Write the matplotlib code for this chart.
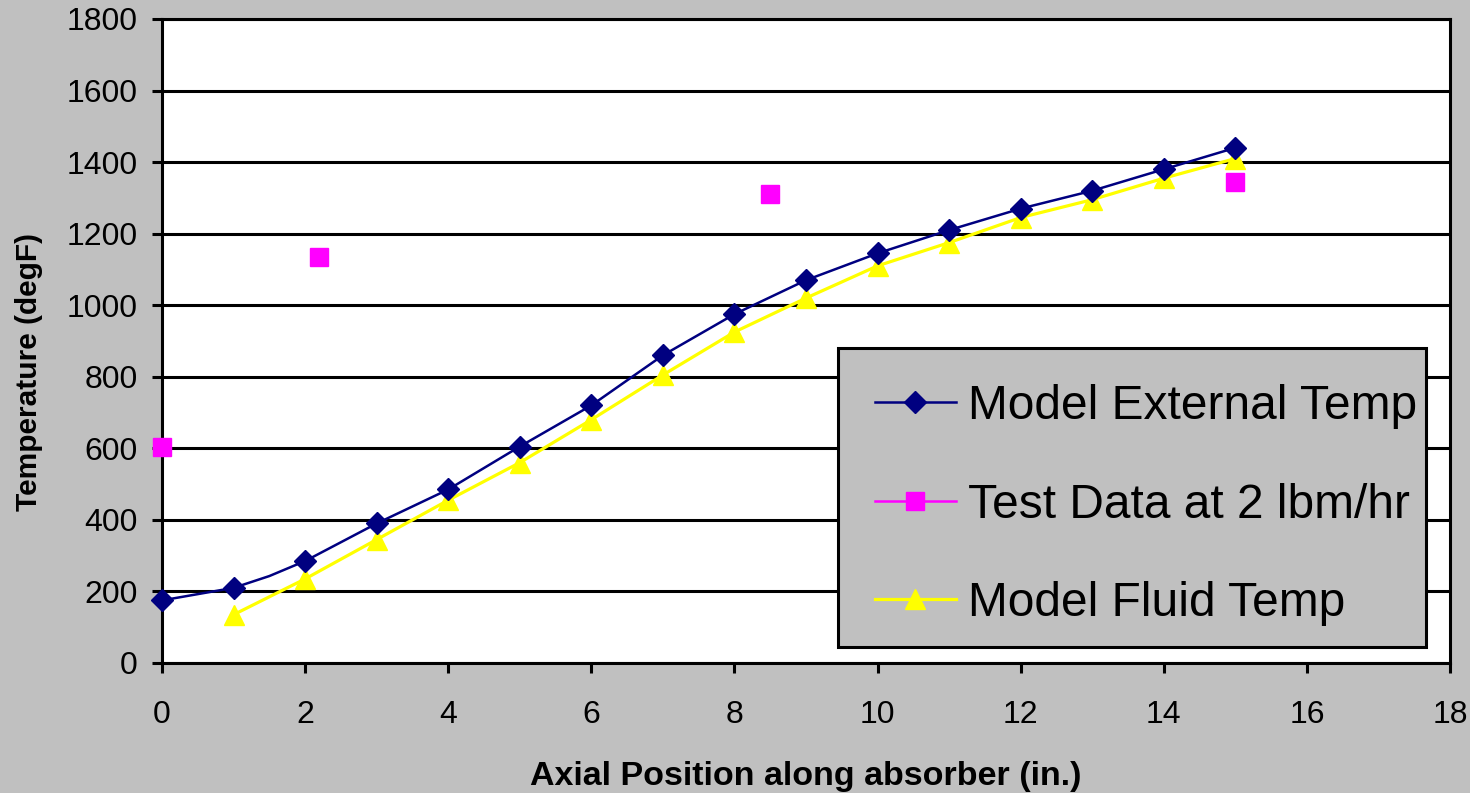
import matplotlib
matplotlib.use('Agg')
import matplotlib.pyplot as plt
from matplotlib.lines import Line2D
from matplotlib.patches import Rectangle

plt.rcParams['font.family'] = ['Liberation Sans', 'DejaVu Sans']

ext_x = [0, 1, 1.5, 2, 3, 4, 5, 6, 7, 8, 9, 10, 11, 12, 13, 14, 15]
ext_y = [175, 210, 243, 285, 390, 485, 605, 720, 860, 975, 1070, 1145, 1210, 1270, 1320, 1380, 1440]
ext_marks = [0, 1, 3, 4, 5, 6, 7, 8, 9, 10, 11, 12, 13, 14, 15, 16]

fluid_x = [1, 2, 3, 4, 5, 6, 7, 8, 9, 10, 11, 12, 13, 14, 15]
fluid_y = [135, 235, 345, 455, 560, 680, 805, 925, 1020, 1110, 1175, 1245, 1295, 1355, 1410]

test_x = [0, 2.2, 8.5, 15]
test_y = [605, 1135, 1310, 1345]

labels = ['Model External Temp', 'Test Data at 2 lbm/hr', 'Model Fluid Temp']

navy = '#000080'
yellow = '#FFFF00'
magenta = '#FF00FF'
grey = '#C0C0C0'

W, H = 1470, 793
fig = plt.figure(figsize=(14.7, 7.93), dpi=100, facecolor=grey)
ax = fig.add_axes([162 / W, 1 - 663 / H, 1288 / W, 644 / H])
ax.set_facecolor('white')

ax.plot(ext_x, ext_y, color=navy, lw=1.8, marker='D', ms=11, markevery=ext_marks,
        clip_on=False, zorder=4)
ax.plot(fluid_x, fluid_y, color=yellow, lw=2.3, marker='^', ms=14, clip_on=False, zorder=3)
ax.plot(test_x, test_y, ls='none', marker='s', ms=12.5, color=magenta, clip_on=False, zorder=5)

ax.set_xlim(0, 18)
ax.set_ylim(0, 1800)
ax.set_xticks(range(0, 19, 2))
ax.set_yticks(range(0, 1801, 200))
ax.yaxis.grid(True, color='black', lw=2.2)
ax.set_axisbelow(True)
for s in ax.spines.values():
    s.set_color('black')
    s.set_linewidth(2.2)
ax.tick_params(axis='both', direction='out', length=7.5, width=2.2, labelsize=23, colors='black')
ax.tick_params(axis='x', pad=19)
ax.tick_params(axis='y', pad=10)

fig.text(806 / W, 1 - 777 / H, 'Axial Position along absorber (in.)', fontsize=24.5,
         fontweight='bold', ha='center', va='center')
fig.text(29 / W, 1 - 372 / H, 'Temperature (degF)', fontsize=21.5, fontweight='bold',
         rotation=90, ha='center', va='center')

# legend box (Excel style, grey with black border)
box = Rectangle((838 / W, 1 - 647 / H), 588 / W, 299 / H, transform=fig.transFigure,
                facecolor=grey, edgecolor='black', lw=2.2, zorder=9, clip_on=False)
ax.add_artist(box)

handles = [
    Line2D([], [], color=navy, lw=1.8, marker='D', ms=11),
    Line2D([], [], color=magenta, lw=1.8, marker='s', ms=12.5),
    Line2D([], [], color=yellow, lw=2.3, marker='^', ms=14),
]
leg = ax.legend(handles, labels, loc='center left', bbox_to_anchor=(875 / W, 1 - 505 / H),
                bbox_transform=fig.transFigure, fontsize=34.5, frameon=False,
                handlelength=1.69, labelspacing=1.12, borderpad=0, handletextpad=0.25,
                borderaxespad=0)
leg.set_zorder(10)

fig.savefig('out.png', dpi=100, facecolor=fig.get_facecolor())
